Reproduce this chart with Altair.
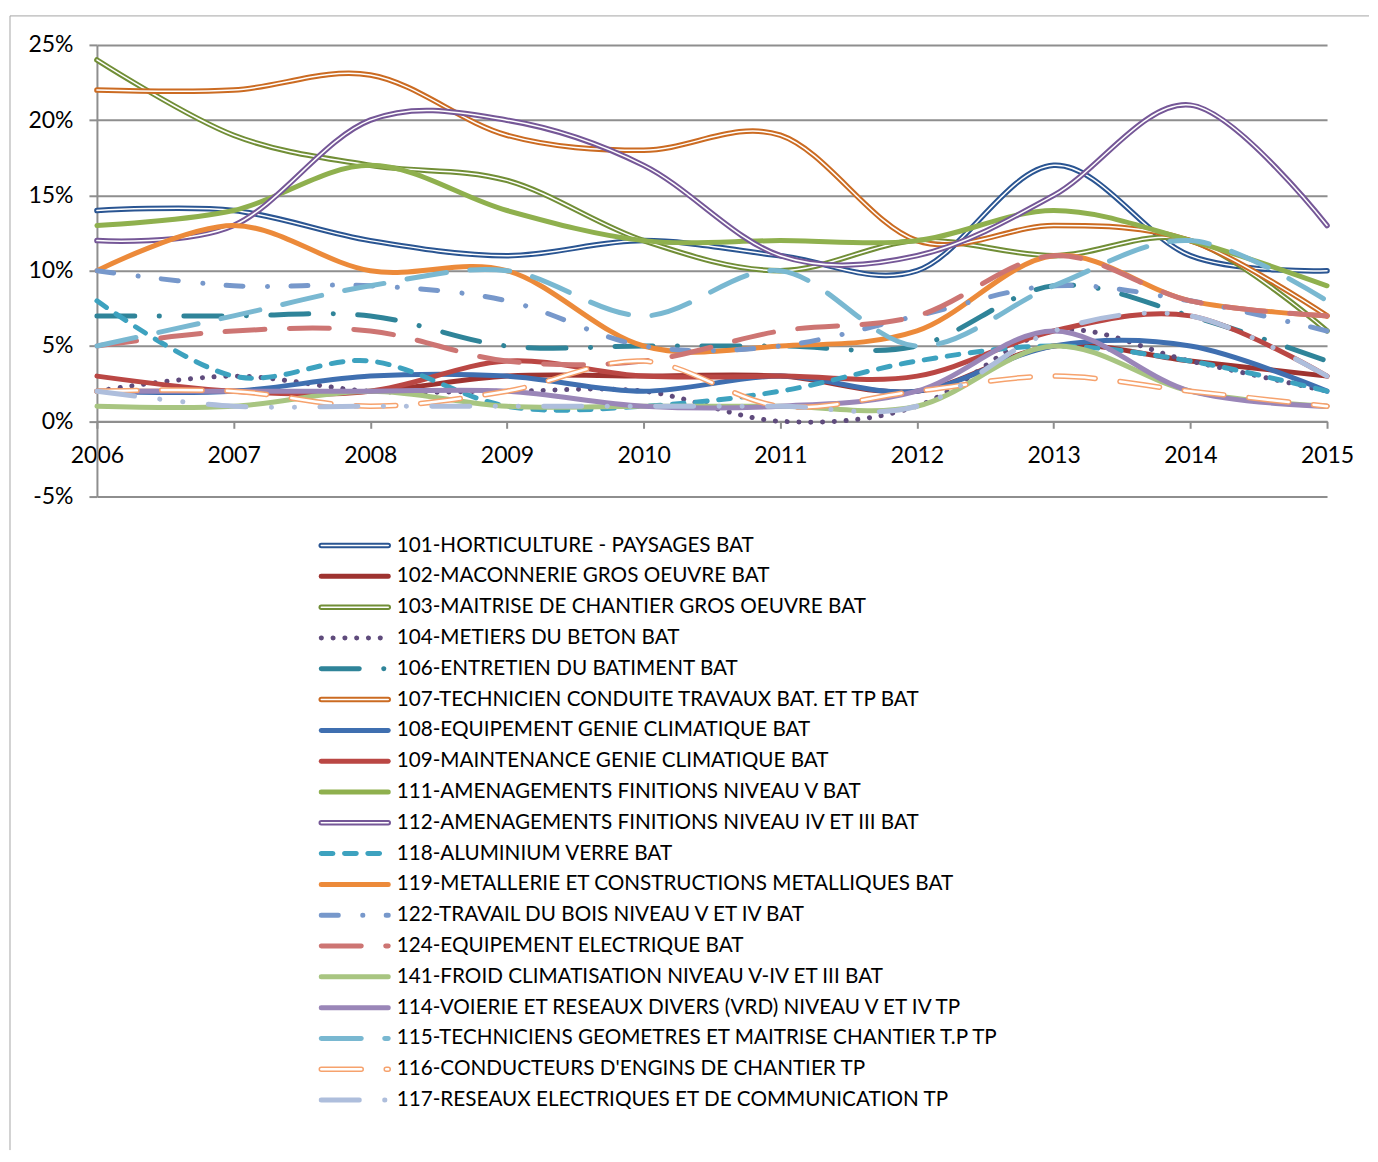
import altair as alt
import pandas as pd

years = [2006, 2007, 2008, 2009, 2010, 2011, 2012, 2013, 2014, 2015]

codes = ["101", "102", "103", "104", "106", "107", "108", "109", "111", "112",
         "118", "119", "122", "124", "141", "114", "115", "116", "117"]

labels = [
    "101-HORTICULTURE - PAYSAGES BAT",
    "102-MACONNERIE GROS OEUVRE BAT",
    "103-MAITRISE DE CHANTIER GROS OEUVRE BAT",
    "104-METIERS DU BETON BAT",
    "106-ENTRETIEN DU BATIMENT BAT",
    "107-TECHNICIEN CONDUITE TRAVAUX BAT. ET TP BAT",
    "108-EQUIPEMENT GENIE CLIMATIQUE BAT",
    "109-MAINTENANCE GENIE CLIMATIQUE BAT",
    "111-AMENAGEMENTS FINITIONS NIVEAU V BAT",
    "112-AMENAGEMENTS FINITIONS NIVEAU IV ET III BAT",
    "118-ALUMINIUM VERRE BAT",
    "119-METALLERIE ET CONSTRUCTIONS METALLIQUES BAT",
    "122-TRAVAIL DU BOIS NIVEAU V ET IV BAT",
    "124-EQUIPEMENT ELECTRIQUE BAT",
    "141-FROID CLIMATISATION NIVEAU V-IV ET III BAT",
    "114-VOIERIE ET RESEAUX DIVERS (VRD) NIVEAU V ET IV TP",
    "115-TECHNICIENS GEOMETRES ET MAITRISE CHANTIER T.P TP",
    "116-CONDUCTEURS D'ENGINS DE CHANTIER TP",
    "117-RESEAUX ELECTRIQUES ET DE COMMUNICATION TP",
]

# values in percent
v101 = [14, 14, 12, 11, 12, 11, 10, 17, 11, 10]
v102 = [2, 2, 2, 3, 3, 3, 2, 5, 4, 3]
v103 = [24, 19, 17, 16, 12, 10, 12, 11, 12, 6]
v104 = [2, 3, 2, 2, 2, 0, 1, 6, 4, 2]
v106 = [7, 7, 7, 5, 5, 5, 5, 9, 7, 4]
v107 = [22, 22, 23, 19, 18, 19, 12, 13, 12, 7]
v108 = [2, 2, 3, 3, 2, 3, 2, 5, 5, 2]
v109 = [3, 2, 2, 4, 3, 3, 3, 6, 7, 3]
v111 = [13, 14, 17, 14, 12, 12, 12, 14, 12, 9]
v112 = [12, 13, 20, 20, 17, 11, 11, 15, 21, 13]
v118 = [8, 3, 4, 1, 1, 2, 4, 5, 4, 2]
v119 = [10, 13, 10, 10, 5, 5, 6, 11, 8, 7]
v122 = [10, 9, 9, 8, 5, 5, 7, 9, 8, 6]
v124 = [5, 6, 6, 4, 4, 6, 7, 11, 8, 7]
v141 = [1, 1, 2, 1, 1, 1, 1, 5, 2, 1]
v114 = [2, 2, 2, 2, 1, 1, 2, 6, 2, 1]
v115 = [5, 7, 9, 10, 7, 10, 5, 9, 12, 8]
v116 = [2, 2, 1, 2, 4, 1, 2, 3, 2, 1]
v117 = [2, 1, 1, 1, 1, 1, 1, 6, 7, 3]

values = [v101, v102, v103, v104, v106, v107, v108, v109, v111, v112,
          v118, v119, v122, v124, v141, v114, v115, v116, v117]

# styles: color, width, dash, inner white width (double line)
styles = {
    "101": ("#2A5592", 5.5, None, 1.5),
    "102": ("#9E3330", 5, None, 0),
    "103": ("#718E36", 5.5, None, 1.5),
    "104": ("#5F4B7C", 5, [0.1, 11.7], 0),
    "106": ("#2F8499", 5, [38, 24.5, 0.1, 24.4], 0),
    "107": ("#CB6B22", 5.5, None, 1.5),
    "108": ("#3F6FB0", 5, None, 0),
    "109": ("#BA4744", 5, None, 0),
    "111": ("#8FB04E", 5, None, 0),
    "112": ("#755797", 5.5, None, 1.5),
    "118": ("#3DA2BF", 5, [11.7, 11.6], 0),
    "119": ("#EC8A3A", 5, None, 0),
    "122": ("#7798CB", 5, [17, 24.5, 0.1, 23.4], 0),
    "124": ("#CD7573", 5, [40, 24.5], 0),
    "141": ("#A8C581", 5, None, 0),
    "114": ("#9A86B8", 5, None, 0),
    "115": ("#79B8D1", 5, [40, 23.5], 0),
    "116": ("#F6A26D", 5.5, [40, 25], 2.5),
    "117": ("#AEBEDC", 5, [38, 25.5, 0.1, 22.9, 0.1, 25.4], 0),
}

rows = []
for c, vals in zip(codes, values):
    for y, v in zip(years, vals):
        rows.append({"code": c, "year": y, "value": v})
df = pd.DataFrame(rows)

W, H = 1231, 452
FONT = "Lato"
GRID = "#8E8E8E"

X = alt.X("year:Q",
          scale=alt.Scale(domain=[2006, 2015], nice=False, zero=False),
          axis=alt.Axis(values=years, format="d", title=None, grid=False,
                        offset=-H / 6.0, tickSize=7, tickWidth=2, tickColor=GRID,
                        domainColor=GRID, domainWidth=2, labelPadding=16,
                        labelFontSize=23, labelFont=FONT, labelColor="black",
                        labelOverlap=False, labelFlush=False))
Y = alt.Y("value:Q",
          scale=alt.Scale(domain=[-5, 25], nice=False, zero=False),
          axis=alt.Axis(values=[-5, 0, 5, 10, 15, 20, 25], labelExpr="datum.value + '%'",
                        title=None, grid=True, gridColor=GRID, gridWidth=2,
                        tickSize=8, tickWidth=2, tickColor=GRID, domainColor=GRID,
                        domainWidth=2, labelPadding=16, labelFontSize=23,
                        labelFont=FONT, labelColor="black"))

base = alt.Chart(df)
layers = []
for c in codes:
    color, w, dash, inner = styles[c]
    mk = dict(interpolate="cardinal", color=color, strokeWidth=w,
              strokeCap="round", strokeJoin="round")
    if dash:
        mk["strokeDash"] = dash
    layers.append(base.transform_filter(alt.datum.code == c).mark_line(**mk).encode(x=X, y=Y))
    if inner:
        mk2 = dict(interpolate="cardinal", color="white", strokeWidth=inner,
                   strokeCap="round", strokeJoin="round")
        if dash:
            mk2["strokeDash"] = dash
        layers.append(base.transform_filter(alt.datum.code == c).mark_line(**mk2).encode(x=X, y=Y))

one = pd.DataFrame({"k": [0]})
frame_top = alt.Chart(one).mark_rule(color="#A6A6A6", strokeWidth=1).encode(
    x=alt.value(-87), x2=alt.value(1273), y=alt.value(-29))
frame_left = alt.Chart(one).mark_rule(color="#A6A6A6", strokeWidth=1).encode(
    x=alt.value(-87), y=alt.value(-29), y2=alt.value(1106))

main = alt.layer(*layers, frame_top, frame_left).properties(width=W, height=H)

# legend
leg_df = pd.DataFrame({"code": codes, "label": labels})
LH = 19 * 30.83
YL = alt.Y("label:N", sort=labels, axis=None,
           scale=alt.Scale(type="point", padding=0.5))
lbase = alt.Chart(leg_df)
llayers = []
for c in codes:
    color, w, dash, inner = styles[c]
    mk = dict(color=color, strokeWidth=w, strokeCap="round")
    if dash:
        mk["strokeDash"] = dash
    llayers.append(lbase.transform_filter(alt.datum.code == c).mark_rule(**mk).encode(
        x=alt.value(224.5), x2=alt.value(291.5), y=YL))
    if inner:
        mk2 = dict(color="white", strokeWidth=inner, strokeCap="round")
        if dash:
            mk2["strokeDash"] = dash
        llayers.append(lbase.transform_filter(alt.datum.code == c).mark_rule(**mk2).encode(
            x=alt.value(224.5), x2=alt.value(291.5), y=YL))
llayers.append(lbase.mark_text(align="left", baseline="middle", fontSize=20.7,
                               font=FONT, color="black").encode(
    x=alt.value(300), y=YL, text="label:N"))
legend = alt.layer(*llayers).properties(width=W, height=LH)

chart = alt.vconcat(main, legend, spacing=33.6, bounds="flush").properties(
    padding={"left": 1, "top": 6.5, "right": 0, "bottom": 0},
    background="white"
).configure_view(stroke=None)

chart.save("out.html", embed_options={"renderer": "svg", "actions": False})
